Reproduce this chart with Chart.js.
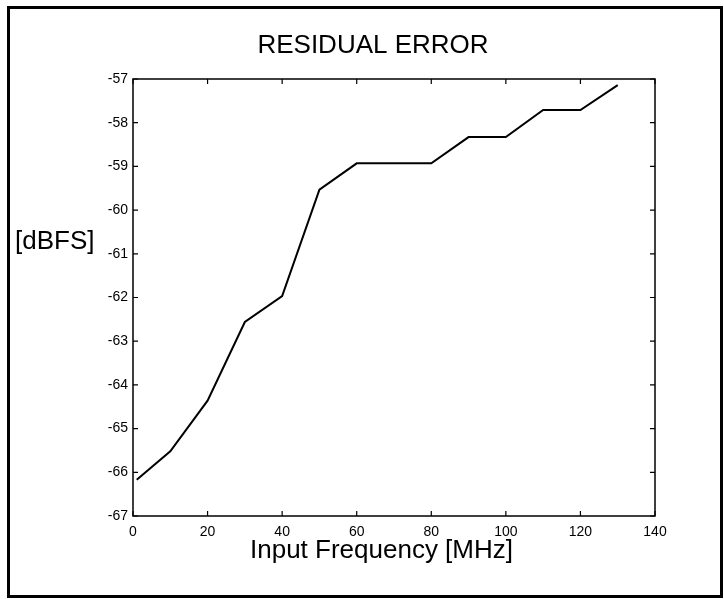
<!DOCTYPE html>
<html>
<head>
<meta charset="utf-8">
<script src="https://cdn.jsdelivr.net/npm/chart.js@4.4.1/dist/chart.umd.min.js"></script>
<style>
  html, body { margin: 0; padding: 0; background: #fff; }
  #wrap { position: absolute; left: 0; top: 0; width: 724px; height: 599px; }
</style>
</head>
<body>
<div id="wrap"><canvas id="chart" width="724" height="599"></canvas></div>
<script>
// --- data ---
const freqs = [1, 10, 20, 30, 40, 50, 60, 70, 80, 90, 100, 110, 120, 130];
const errors = [-66.17, -65.52, -64.36, -62.56, -61.97, -59.53, -58.93, -58.93, -58.93, -58.33, -58.33, -57.71, -57.71, -57.14];
const xTicks = [0, 20, 40, 60, 80, 100, 120, 140];
const yTicks = [-67, -66, -65, -64, -63, -62, -61, -60, -59, -58, -57];

const titleText = 'RESIDUAL ERROR';
const yLabel = '[dBFS]';
const xLabel = 'Input Frequency [MHz]';

const FONT = '"Liberation Sans", Arial, sans-serif';

// frame, inward ticks and the texts
const decor = {
    id: 'decor',
    afterDraw(chart) {
        const ctx = chart.ctx;
        const a = chart.chartArea;
        const xs = chart.scales.x, ys = chart.scales.y;
        ctx.save();
        ctx.strokeStyle = '#000';

        // outer frame
        ctx.lineWidth = 3;
        ctx.strokeRect(8.5, 7.5, 713, 589);

        // plot box
        ctx.lineWidth = 1.5;
        ctx.strokeRect(a.left, a.top, a.right - a.left, a.bottom - a.top);

        // ticks pointing in
        ctx.lineWidth = 1.2;
        ctx.beginPath();
        xTicks.forEach(v => {
            const px = xs.getPixelForValue(v);
            ctx.moveTo(px, a.bottom); ctx.lineTo(px, a.bottom - 5);
            ctx.moveTo(px, a.top); ctx.lineTo(px, a.top + 5);
        });
        yTicks.forEach(v => {
            const py = ys.getPixelForValue(v);
            ctx.moveTo(a.left, py); ctx.lineTo(a.left + 5, py);
            ctx.moveTo(a.right, py); ctx.lineTo(a.right - 5, py);
        });
        ctx.stroke();

        ctx.fillStyle = '#000';
        ctx.textBaseline = 'alphabetic';
        ctx.font = '26px ' + FONT;
        ctx.textAlign = 'center';
        ctx.fillText(titleText, 373, 53);

        ctx.textAlign = 'left';
        ctx.fillText(yLabel, 15, 249);

        ctx.font = '26px ' + FONT;
        ctx.fillText(xLabel, 250, 558);
        ctx.restore();
    }
};

new Chart(document.getElementById('chart').getContext('2d'), {
    type: 'line',
    data: {
        datasets: [{
            data: freqs.map((f, i) => ({ x: f, y: errors[i] })),
            borderColor: '#000',
            borderWidth: 2,
            pointRadius: 0,
            tension: 0,
            fill: false
        }]
    },
    options: {
        responsive: false,
        animation: false,
        layout: { padding: { top: 79, right: 69, left: 0, bottom: 0 } },
        plugins: { legend: { display: false }, title: { display: false }, tooltip: { enabled: false } },
        scales: {
            x: {
                type: 'linear',
                min: 0, max: 140,
                afterBuildTicks: s => { s.ticks = xTicks.map(v => ({ value: v })); },
                afterFit: s => { s.height = 83; },
                grid: { display: false, drawTicks: false },
                border: { display: false },
                ticks: { color: '#000', padding: 8, maxRotation: 0, font: { family: FONT, size: 14 } }
            },
            y: {
                type: 'linear',
                min: -67, max: -57,
                afterBuildTicks: s => { s.ticks = yTicks.map(v => ({ value: v })); },
                afterFit: s => { s.width = 133; },
                grid: { display: false, drawTicks: false },
                border: { display: false },
                ticks: { color: '#000', padding: 5, font: { family: FONT, size: 14 } }
            }
        }
    },
    plugins: [decor]
});
</script>
</body>
</html>
